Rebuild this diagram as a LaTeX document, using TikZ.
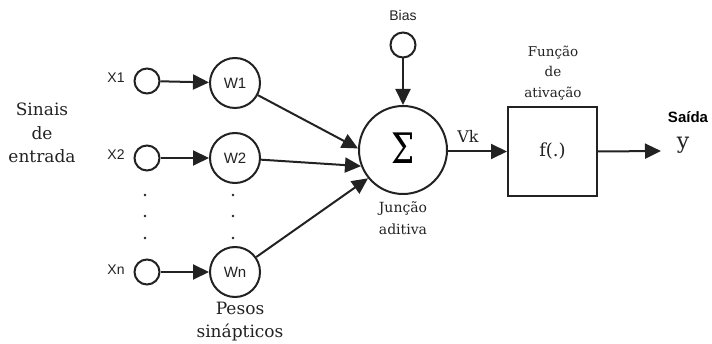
\documentclass[tikz,border=0pt]{standalone}
\usepackage{fontspec}
\setmainfont{DejaVu Serif}
\newfontfamily\labfont{Liberation Sans}
\usetikzlibrary{arrows.meta}
\definecolor{ink}{HTML}{222222}
\tikzset{
  wire/.style={line width=2pt, draw=ink, -{Triangle[length=16pt,width=15pt]}},
  inpt/.style={circle, draw=ink, line width=2pt, minimum size=25pt, inner sep=0pt},
  weight/.style={circle, draw=ink, line width=2pt, minimum size=50pt, inner sep=0pt,
    font=\labfont\fontsize{15}{17}\selectfont, text=ink},
  sanslab/.style={font=\labfont\fontsize{14}{16}\selectfont, text=ink, inner sep=0pt},
  seriflab/.style={align=center, text=ink, inner sep=0pt},
}
\begin{document}
\begin{tikzpicture}[x=1pt, y=-1pt]
\useasboundingbox (0,0) rectangle (712,344);

% inputs
\node[inpt] (x1) at (147,81) {};
\node[inpt] (x2) at (147,158) {};
\node[inpt] (xn) at (147,272) {};
\node[sanslab] (lx1) at (116,78) {X1};
\node[sanslab] (lx2) at (116,155) {X2};
\node[sanslab] (lxn) at (116,270) {Xn};

% synaptic weights
\node[weight] (w1) at (235,83) {W1};
\node[weight] (w2) at (235,158) {W2};
\node[weight] (wn) at (235,272) {Wn};

% vertical ellipsis
\foreach \yy in {195,216,238} {
  \fill[ink] (145,\yy) circle (1.4pt);
  \fill[ink] (233,\yy) circle (1.4pt);
}

% summing junction, bias and activation
\node[circle, draw=ink, line width=2pt, minimum size=88pt, inner sep=0pt] (sigma) at (403,150)
  {\raisebox{3pt}{\scalebox{0.78}[1]{\fontsize{42}{42}\selectfont Σ}}};
\node[inpt] (bias) at (403,45) {};
\node[sanslab] (lbias) at (403,16) {Bias};
\node[draw=ink, line width=2pt, minimum size=89pt, inner sep=0pt,
  font=\fontsize{18}{20}\selectfont, text=ink] (act) at (552.5,151.5) {f(.)};
\coordinate (out) at (661,151);

% connectors
\draw[wire] (x1) -- (w1);
\draw[wire] (x2) -- (w2);
\draw[wire] (xn) -- (wn);
\draw[wire] (w1) -- (sigma.178);
\draw[wire] (w2) -- (sigma.201);
\draw[wire] (wn) -- (sigma.219);
\draw[wire] (bias) -- (sigma);
\draw[wire] (sigma.east |- act.west) -- (act.west);
\draw[wire] (act.east) -- (out);

% labels
\node[seriflab, font=\fontsize{17}{23.5}\selectfont] (lsin) at (42,133) {Sinais\\de\\entrada};
\node[seriflab, font=\fontsize{17}{23}\selectfont] (lpes) at (240,322) {Pesos\\sinápticos};
\node[seriflab, font=\fontsize{13.5}{20.5}\selectfont] (lfun) at (553,73) {Função\\de\\ativação};
\node[seriflab, font=\fontsize{14}{22}\selectfont] (ljun) at (403,218) {Junção\\aditiva};
\node[seriflab, font=\fontsize{16}{18}\selectfont] (lvk) at (468,136) {Vk};
\node[font=\labfont\bfseries\fontsize{15}{17}\selectfont, inner sep=0pt] (lsai) at (688,117) {Saída};
\node[seriflab, font=\fontsize{22}{24}\selectfont] (ly) at (683,145) {y};
\end{tikzpicture}
\end{document}
